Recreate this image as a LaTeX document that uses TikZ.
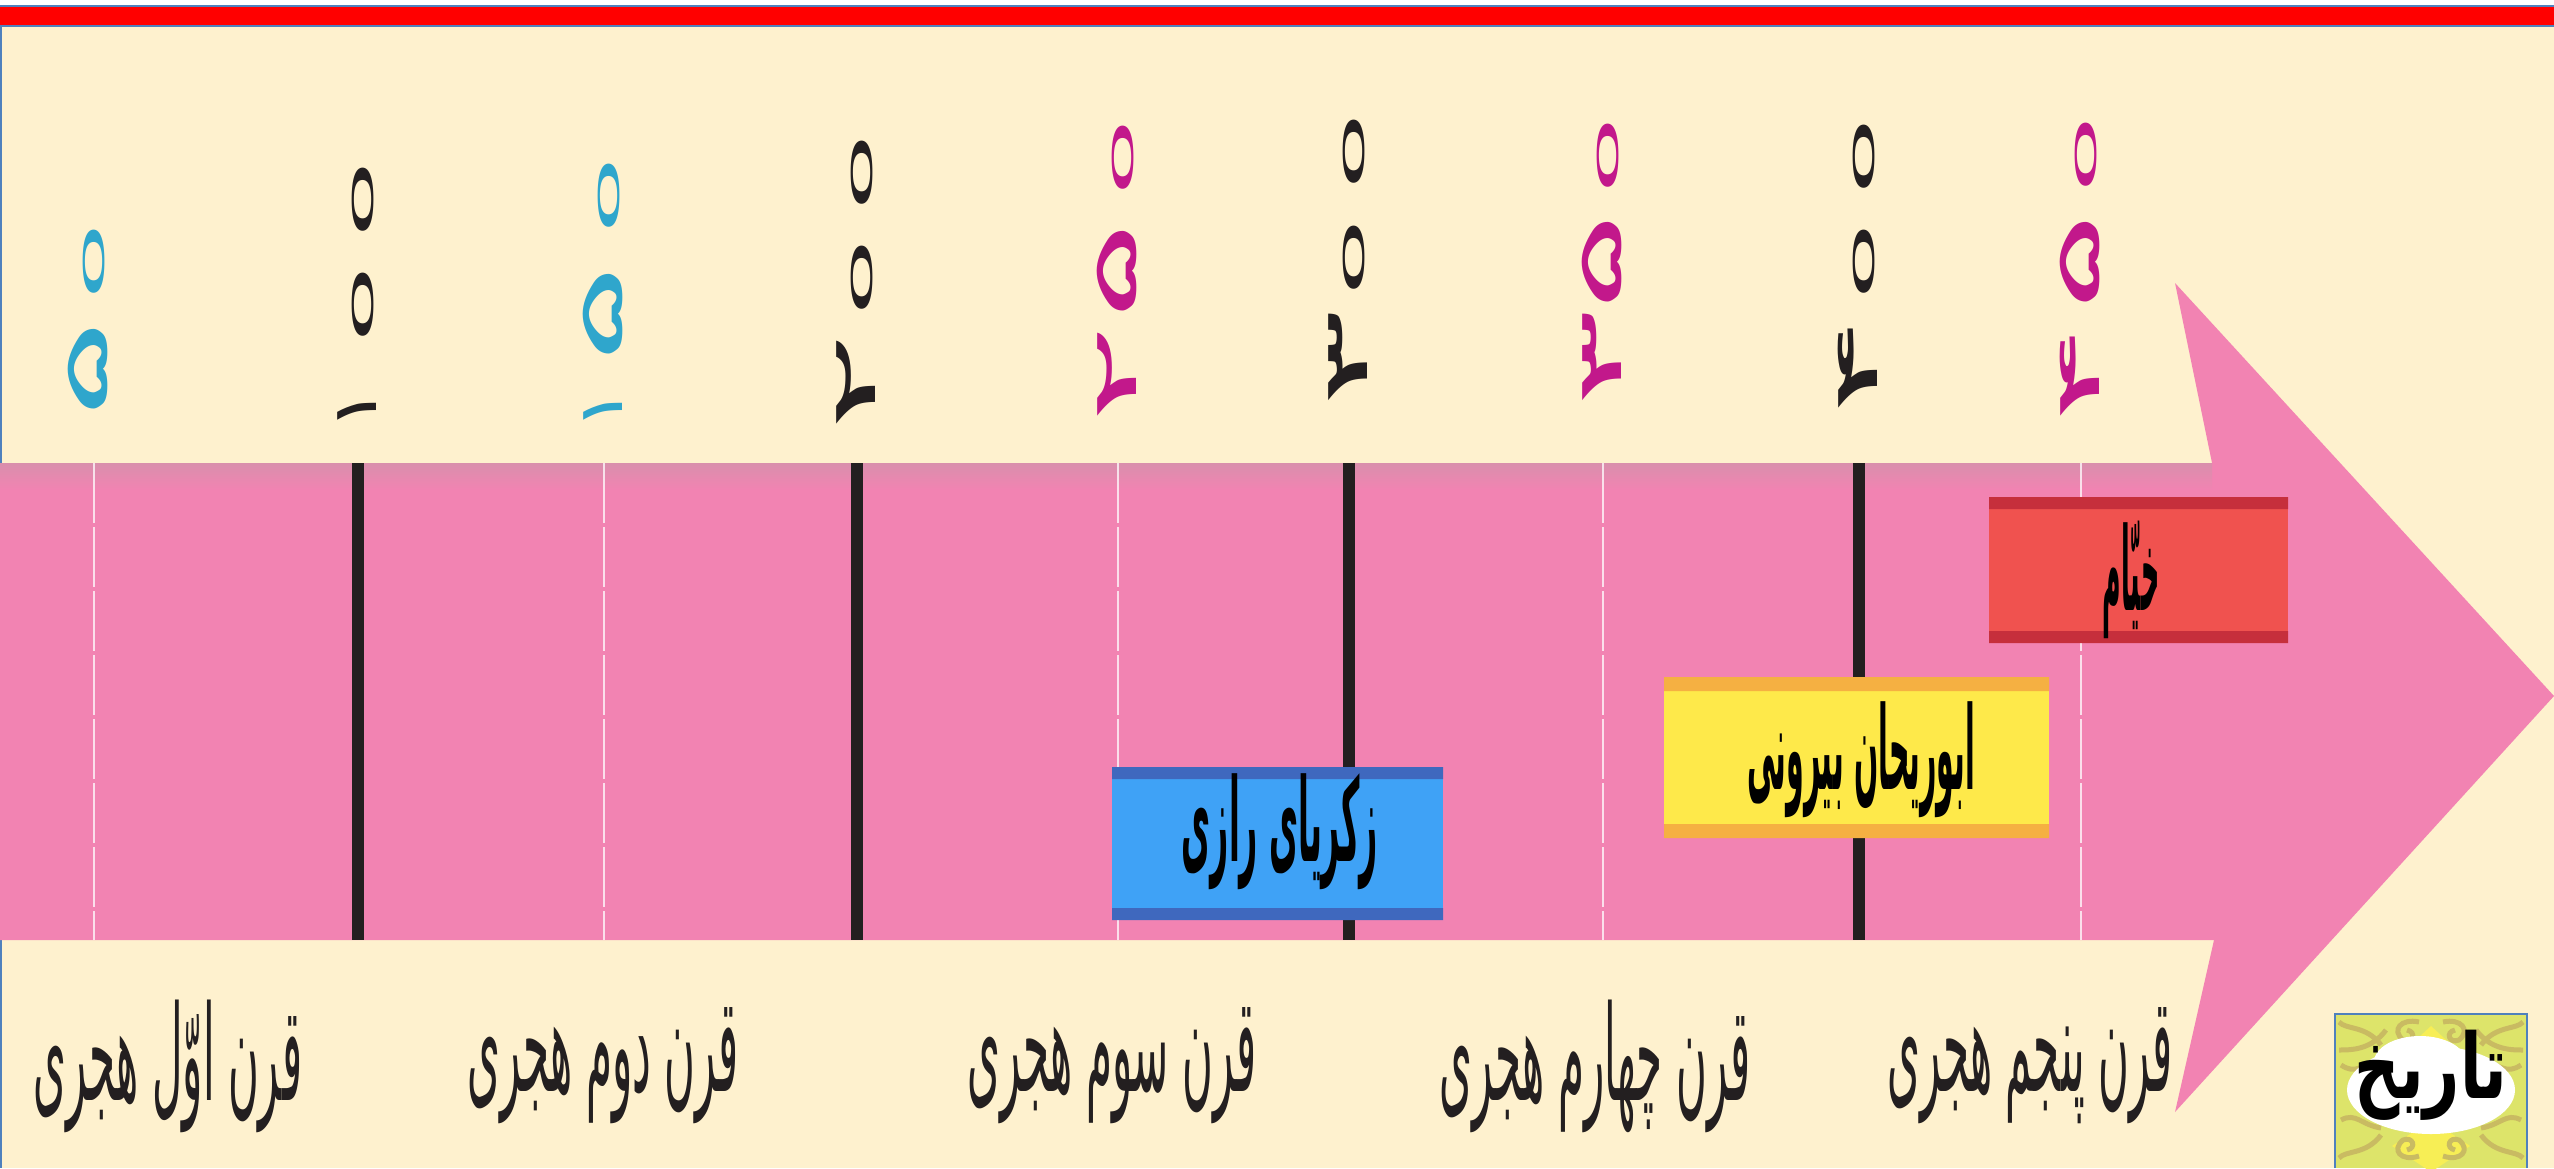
\documentclass[tikz,border=0pt]{standalone}
\usepackage{fontspec}
\TeXXeTstate=1
\newfontfamily\arabicfont[Script=Arabic]{DejaVu Sans}
\definecolor{paper}{HTML}{FEF1CE}
\definecolor{rosa}{HTML}{F283B2}
\definecolor{rosadk}{HTML}{D98FAC}
\definecolor{edgeblue}{HTML}{4F81BD}
\definecolor{cyanish}{HTML}{2FA6CC}
\definecolor{magentish}{HTML}{C2188B}
\definecolor{inkk}{HTML}{231F20}
\definecolor{logobg}{HTML}{DDE46A}
\definecolor{logoorn}{HTML}{C9BB62}
\definecolor{logoyel}{HTML}{F7EE55}
\definecolor{redbox}{HTML}{F0524F}
\definecolor{redband}{HTML}{C62F3C}
\definecolor{yelbox}{HTML}{FEE94A}
\definecolor{yelband}{HTML}{F5B042}
\definecolor{blubox}{HTML}{3FA2F6}
\definecolor{bluband}{HTML}{3F68BE}
\newcommand{\zz}{\hspace{4.8pt}\raisebox{1.5pt}{\fontsize{16}{16}\selectfont\scalebox{1.45}[1]{0}}}
\newcommand{\barone}{\scalebox{.45}[1]{۱}}
\tikzset{
 x=0.5pt,y=-0.5pt,
 centurylabel/.style={font=\arabicfont\fontsize{21}{21}\selectfont,text=inkk,xscale=1.0,yscale=3.15,inner sep=0},
 yearnum/.style={font=\arabicfont\fontsize{34}{34}\selectfont,rotate=90,anchor=base west,xscale=2.7,yscale=.9,inner sep=0},
 boxlabel/.style={font=\arabicfont\bfseries\fontsize{17}{17}\selectfont,text=black,yscale=3.4,xscale=.93,inner sep=0},
 heavytick/.style={draw=inkk,line width=6pt},
 lighttick/.style={draw=white,opacity=.75,line width=1pt,dash pattern=on 30pt off 2pt}
}
\begin{document}
\begin{tikzpicture}
\useasboundingbox (0,0) rectangle (2554,1168);
\fill[paper] (0,0) rectangle (2554,1168);
\fill[white] (0,0) rectangle (2554,6);
\fill[red] (0,6) rectangle (2554,26);
\draw[edgeblue,line width=1pt] (0,6) -- (2554,6) (0,26) -- (2554,26);
\draw[edgeblue,line width=1pt] (1,26) -- (1,1168);
% arrow
\fill[rosa] (0,463) -- (2212,463) -- (2175,283) -- (2554,696) -- (2175,1112) -- (2214,940) -- (0,940) -- cycle;
\shade[top color=rosadk,bottom color=rosa] (0,463) rectangle (2212,490);
% ticks
\foreach \x in {94,604,1118,1603,2081}{\draw[lighttick] (\x,463) -- (\x,940);}
\foreach \x in {358,857,1349,1859}{\draw[heavytick] (\x,463) -- (\x,940);}
% year numbers
\node[yearnum,text=cyanish] (y50) at (107,420) {۵\hspace{-1.4pt}\zz};
\node[yearnum,text=inkk] (y100) at (376,433) {\barone\hspace{3.1pt}\zz\zz};
\node[yearnum,text=cyanish] (y150) at (622,433) {\barone\hspace{4.4pt}۵\hspace{.7pt}\zz};
\node[yearnum,text=inkk] (y200) at (875,433) {۲\hspace{-1.9pt}\zz\zz};
\node[yearnum,text=magentish] (y250) at (1136,425) {۲\hspace{1pt}۵\hspace{-.3pt}\zz};
\node[yearnum,text=inkk] (y300) at (1367,409) {۳\hspace{-2.6pt}\zz\zz};
\node[yearnum,text=magentish] (y350) at (1621,409) {۳\hspace{-.5pt}۵\hspace{-1.4pt}\zz};
\node[yearnum,text=inkk] (y400) at (1877,417) {۴\hspace{-1.9pt}\zz\zz};
\node[yearnum,text=magentish] (y450) at (2099,425) {۴\hspace{2.5pt}۵\hspace{-1.4pt}\zz};
% boxes
\fill[redbox] (1989,497) rectangle (2288,643);
\fill[redband] (1989,497) rectangle (2288,509) (1989,631) rectangle (2288,643);
\fill[yelbox] (1664,677) rectangle (2049,838);
\fill[yelband] (1664,677) rectangle (2049,691) (1664,824) rectangle (2049,838);
\fill[blubox] (1112,767) rectangle (1443,920);
\fill[bluband] (1112,767) rectangle (1443,779) (1112,908) rectangle (1443,920);
\node[boxlabel,xscale=.8] (khayyam) at (2131,580) {\beginR خیّام\endR};
\node[boxlabel,xscale=.9] (biruni) at (1861,760) {\beginR ابوریحان بیرونی\endR};
\node[boxlabel] (razi) at (1280,832) {\beginR زکریای رازی\endR};
% century labels
\node[centurylabel] (c1) at (168,1066) {\beginR قرن اوّل هجری\endR};
\node[centurylabel] (c2) at (603,1066) {\beginR قرن دوم هجری\endR};
\node[centurylabel] (c3) at (1112,1066) {\beginR قرن سوم هجری\endR};
\node[centurylabel] (c4) at (1595,1066) {\beginR قرن چهارم هجری\endR};
\node[centurylabel] (c5) at (2030,1066) {\beginR قرن پنجم هجری\endR};
% logo
\begin{scope}
\clip (2335,1014) rectangle (2527,1168);
\fill[logobg] (2335,1014) rectangle (2527,1168);
\fill[logoyel] (2431,1026) -- (2470,1062) -- (2431,1090) -- (2392,1062) -- cycle;
\fill[logoyel] (2431,1120) -- (2470,1146) -- (2431,1172) -- (2392,1146) -- cycle;
\foreach \s in {-1,1}{
 \begin{scope}[shift={(2431,0)},xscale=\s]
 \draw[logoorn,line width=2.5pt] (12,1022) .. controls (30,1018) and (40,1030) .. (28,1040) .. controls (18,1044) and (14,1032) .. (24,1030);
 \draw[logoorn,line width=2.5pt] (50,1045) .. controls (65,1025) and (85,1030) .. (92,1022);
 \draw[logoorn,line width=2.5pt] (45,1030) .. controls (60,1050) and (80,1050) .. (92,1050);
 \draw[logoorn,line width=2.5pt] (90,1065) .. controls (75,1075) and (70,1065) .. (50,1060);
 \draw[logoorn,line width=2.5pt] (12,1156) .. controls (30,1162) and (40,1150) .. (28,1140) .. controls (18,1136) and (14,1148) .. (24,1150);
 \draw[logoorn,line width=2.5pt] (50,1135) .. controls (65,1155) and (85,1150) .. (92,1158);
 \draw[logoorn,line width=2.5pt] (90,1120) .. controls (75,1112) and (70,1125) .. (50,1128);
 \end{scope}
}
\fill[white] (2431,1090) ellipse (84 and 44);
\fill[white] (2420,1062) ellipse (46 and 26);
\end{scope}
\node[font=\arabicfont\bfseries\fontsize{30}{30}\selectfont,text=black,inner sep=0,xscale=1.05,yscale=1.5] (logotext) at (2431,1075) {\beginR تاریخ\endR};
\draw[edgeblue,line width=1pt] (2335,1168) -- (2335,1014) -- (2527,1014) -- (2527,1168);
\end{tikzpicture}
\end{document}
